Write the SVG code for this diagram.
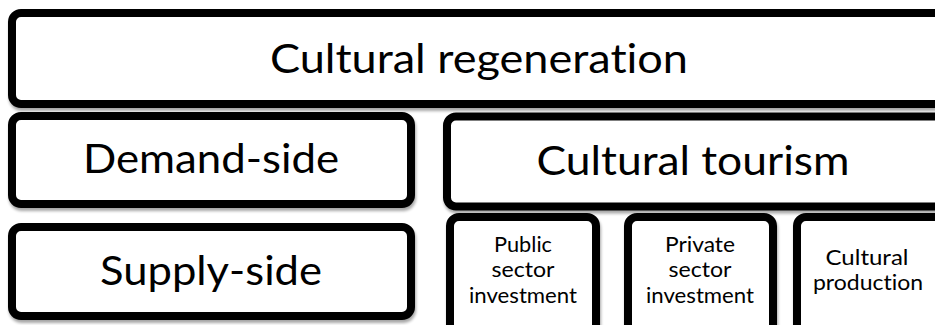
<svg xmlns="http://www.w3.org/2000/svg" width="935" height="325" viewBox="0 0 935 325">
<style>
.box{fill:#fff;stroke:#000;stroke-width:8;filter:url(#sh)}
.t{font-family:Lato,"Open Sans","Liberation Sans",sans-serif;fill:#000;text-anchor:middle;font-variant-ligatures:none;font-feature-settings:"liga" 0}
.big{font-size:41px}
.small{font-size:21px}
</style>
<defs>
<filter id="sh" x="-5%" y="-10%" width="110%" height="125%">
<feGaussianBlur in="SourceAlpha" stdDeviation="1.5"/>
<feOffset dx="1" dy="3" result="b"/>
<feComponentTransfer><feFuncA type="linear" slope="0.35"/></feComponentTransfer>
<feMerge><feMergeNode/><feMergeNode in="SourceGraphic"/></feMerge>
</filter>
</defs>
<rect width="935" height="325" fill="#fff"/>
<g id="connectors"></g>
<g id="cultural-regeneration">
<rect class="box" x="12" y="13" width="940" height="91" rx="9"/>
<text class="t big" x="479" y="73" textLength="418" lengthAdjust="spacingAndGlyphs">Cultural regeneration</text>
</g>
<g id="demand-side">
<rect class="box" x="12" y="116" width="399" height="88" rx="9"/>
<text class="t big" x="211" y="173" textLength="256" lengthAdjust="spacingAndGlyphs">Demand-side</text>
</g>
<g id="supply-side">
<rect class="box" x="12" y="227" width="399" height="89" rx="9"/>
<text class="t big" x="211" y="285" textLength="222" lengthAdjust="spacingAndGlyphs">Supply-side</text>
</g>
<g id="cultural-tourism">
<rect class="box" x="447" y="116.5" width="500" height="90" rx="9"/>
<text class="t big" x="693" y="175" textLength="313" lengthAdjust="spacingAndGlyphs">Cultural tourism</text>
</g>
<g id="public-sector-investment">
<rect class="box" x="450" y="217" width="146" height="120" rx="9"/>
<text class="t small" x="523" y="252" textLength="58" lengthAdjust="spacingAndGlyphs">Public</text>
<text class="t small" x="523" y="277" textLength="63" lengthAdjust="spacingAndGlyphs">sector</text>
<text class="t small" x="523" y="303" textLength="108" lengthAdjust="spacingAndGlyphs">investment</text>
</g>
<g id="private-sector-investment">
<rect class="box" x="628" y="217" width="145" height="120" rx="9"/>
<text class="t small" x="700" y="252" textLength="70" lengthAdjust="spacingAndGlyphs">Private</text>
<text class="t small" x="700" y="277" textLength="63" lengthAdjust="spacingAndGlyphs">sector</text>
<text class="t small" x="700" y="303" textLength="108" lengthAdjust="spacingAndGlyphs">investment</text>
</g>
<g id="cultural-production">
<rect class="box" x="797" y="217" width="150" height="120" rx="9"/>
<text class="t small" x="867" y="265" textLength="83" lengthAdjust="spacingAndGlyphs">Cultural</text>
<text class="t small" x="868" y="290" textLength="110" lengthAdjust="spacingAndGlyphs">production</text>
</g>
</svg>
